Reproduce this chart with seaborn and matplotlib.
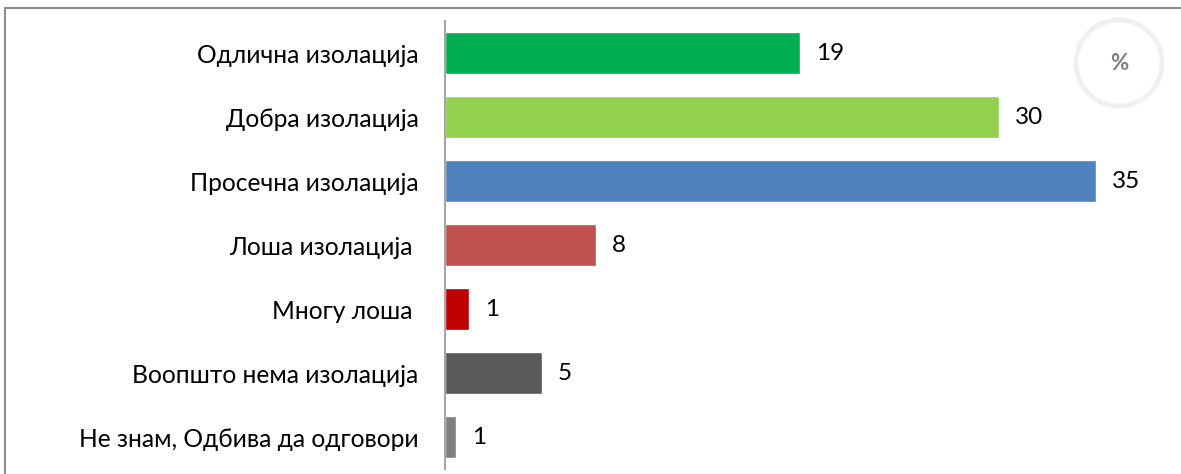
import matplotlib
matplotlib.use("Agg")
import matplotlib.pyplot as plt
import seaborn as sns
import pandas as pd
from matplotlib.patches import Rectangle, Circle

categories = ["Одлична изолација", "Добра изолација", "Просечна изолација",
              "Лоша изолација ", "Многу лоша ", "Воопшто нема изолација",
              "Не знам, Одбива да одговори"]
values = [19.1, 29.8, 35.0, 8.1, 1.3, 5.2, 0.6]
labels = ["19", "30", "35", "8", "1", "5", "1"]
colors = ["#00B050", "#92D050", "#4F81BD", "#C0504D", "#C00000", "#595959", "#808080"]

df = pd.DataFrame({"cat": categories, "val": values})

sns.set_style("white")
plt.rcParams["font.family"] = ["Lato", "DejaVu Sans"]

W, H = 1181, 474
fig = plt.figure(figsize=(W / 100, H / 100), dpi=100)
ax = fig.add_axes([445 / W, 1 - 469 / H, 707 / W, 448 / H])

sns.barplot(data=df, x="val", y="cat", hue="cat", palette=colors, legend=False,
            width=0.67, saturation=1, ax=ax, orient="h")
ax.set_xlim(0, 38)
ax.set_ylim(6.5, -0.5)
ax.set_xlabel("")
ax.set_ylabel("")
ax.set_xticks([])
for s in ["top", "right", "bottom"]:
    ax.spines[s].set_visible(False)
ax.spines["left"].set_color("#a6a6a6")
ax.spines["left"].set_linewidth(1.5)
ax.tick_params(axis="y", length=0, pad=19, labelsize=17.7, labelcolor="#000000")

for i, (v, lab) in enumerate(zip(values, labels)):
    ax.text(v + 0.85, i, lab, va="center", ha="left", fontsize=17.5, color="#000000")

# chart frame (right and bottom edges fall outside the picture)
fig.patches.append(Rectangle((4.5 / W, -0.1), 2, 1.1 - 7.5 / H, transform=fig.transFigure,
                             fill=False, edgecolor="#8c8c8c", linewidth=1.5))

# percent badge
fig.patches.append(Circle((1119, H - 63), 43, transform=None, fill=False,
                          edgecolor="#f0f0f0", linewidth=3.5))
fig.text(1119 / W, 1 - 64 / H, "%", ha="center", va="center", fontsize=16,
         color="#7f7f7f", fontweight="bold")

fig.savefig("out.png", dpi=100)
